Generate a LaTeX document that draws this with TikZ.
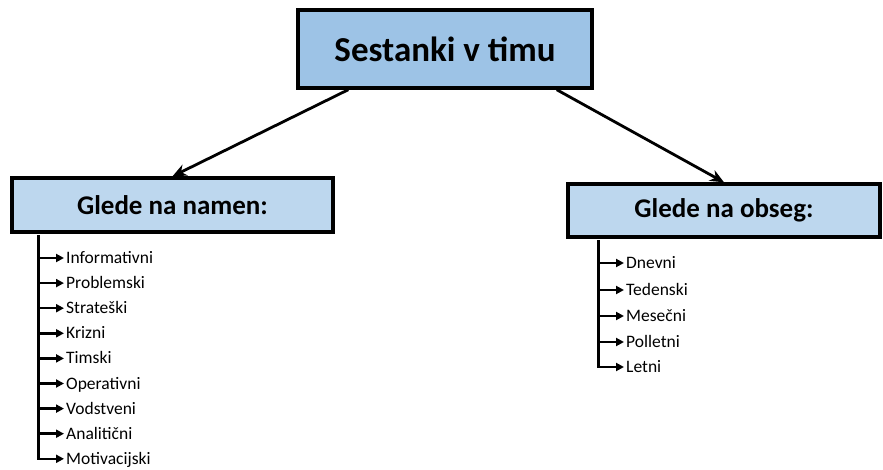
\documentclass[tikz,border=0pt]{standalone}
\usepackage{fontspec}
\setmainfont{Carlito}
\usetikzlibrary{arrows.meta}
\definecolor{topfill}{HTML}{9DC3E6}
\definecolor{subfill}{HTML}{BDD7EE}
\begin{document}
\begin{tikzpicture}[x=1pt,y=-1pt,
  titlebox/.style={draw=black,line width=3.4pt,fill=topfill,minimum width=294pt,minimum height=78pt,inner sep=0pt,font=\fontsize{35}{42}\selectfont\bfseries},
  groupbox/.style={draw=black,line width=3.4pt,fill=subfill,inner sep=0pt,font=\fontsize{27}{32}\selectfont\bfseries},
  bigarrow/.style={line width=2.8pt,-{Stealth[length=14pt,width=12pt]}},
  trunk/.style={line width=2.6pt},
  twig/.style={line width=2.5pt,-{Triangle[length=8pt,width=8pt]}},
  itemtext/.style={anchor=west,inner xsep=2pt,inner ysep=0pt,text height=11pt,text depth=0pt,font=\fontsize{17.5}{21}\selectfont}]
\useasboundingbox (0,0) rectangle (883,470);
\fill[white] (0,0) rectangle (883,470);

% headings
\node[titlebox] (top) at (445,49) {Sestanki v timu};
\node[groupbox,minimum width=321pt,minimum height=54pt] (namen) at (172.5,205) {Glede na namen:};
\node[groupbox,minimum width=312pt,minimum height=53pt] (obseg) at (724,210.5) {Glede na obseg:};

\draw[bigarrow] ([xshift=52pt]top.south west) -- (namen.north);
\draw[bigarrow] ([xshift=-37pt]top.south east) -- (obseg.north);

% list by purpose
\coordinate (lt) at ([xshift=28pt,yshift=-1.7pt]namen.south west);
\foreach \name/\k/\txt in {n1/0/Informativni,n2/1/Problemski,n3/2/Strateški,
  n4/3/Krizni,n5/4/Timski,n6/5/Operativni,n7/6/Vodstveni,n8/7/Analitični,
  n9/8/Motivacijski}
  \node[itemtext] (\name) at (64,258+25.1*\k) {\txt};
\draw[trunk] (lt) -- (lt |- n9.west);
\foreach \name in {n1,n2,n3,n4,n5,n6,n7,n8}
  \draw[twig] (lt |- \name.west) -- (\name.west);
\draw[twig] ([xshift=-1.3pt]lt |- n9.west) -- (n9.west);

% list by scope
\coordinate (rt) at ([xshift=32pt,yshift=-1.7pt]obseg.south west);
\foreach \name/\y/\txt in {m1/263/Dnevni,m2/290/Tedenski,m3/316/Mesečni,
  m4/342/Polletni,m5/367/Letni}
  \node[itemtext] (\name) at (624,\y) {\txt};
\draw[trunk] (rt) -- (rt |- m5.west);
\foreach \name in {m1,m2,m3,m4}
  \draw[twig] (rt |- \name.west) -- (\name.west);
\draw[twig] ([xshift=-1.3pt]rt |- m5.west) -- (m5.west);
\end{tikzpicture}
\end{document}
